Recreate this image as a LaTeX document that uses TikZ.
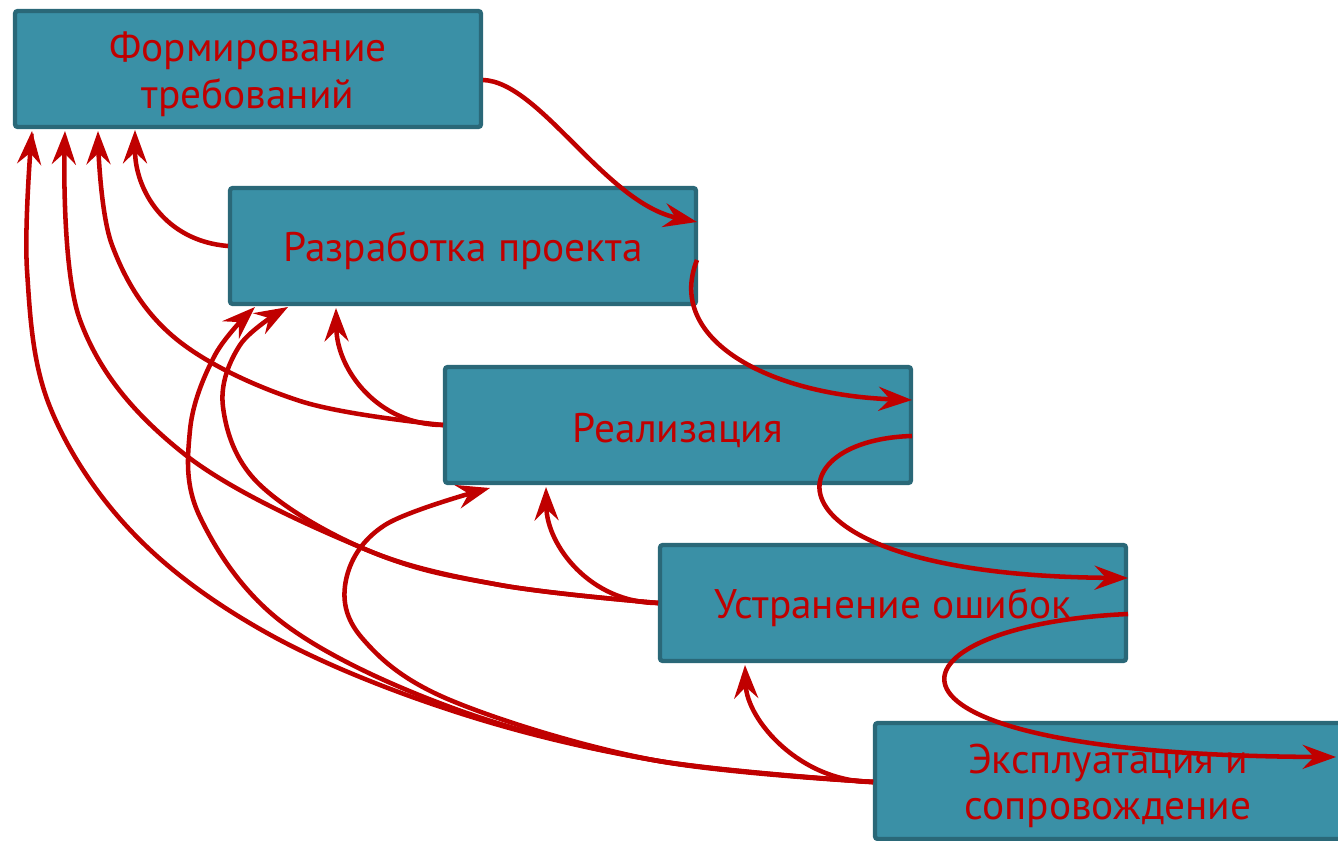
\documentclass[tikz,border=0pt]{standalone}
\usepackage{fontspec}
\setmainfont{PT Sans}
\usetikzlibrary{arrows.meta,calc}
\definecolor{boxfill}{HTML}{3A90A6}
\definecolor{boxline}{HTML}{2A6878}
\definecolor{arrowred}{HTML}{C00000}

\begin{document}
\begin{tikzpicture}[x=0.75pt,y=-0.75pt,
  stage/.style={draw=boxline, fill=boxfill, line width=3.2pt, rounded corners=2pt,
    minimum width=349.5pt, minimum height=87pt, inner sep=0pt, outer sep=0pt},
  stagetext/.style={text=arrowred, align=center, inner sep=0pt,
    font=\fontsize{31}{35}\selectfont},
  flow/.style={draw=arrowred, line width=3.4pt,
    -{Stealth[length=25pt,width=18pt,inset=8.5pt]}},
  back/.style={flow},
  curve/.style={smooth, tension=0.6},
]
\useasboundingbox (0,0) rectangle (1338,841);
\fill[white] (0,0) rectangle (1338,841);
\clip (0,0) rectangle (1338,841);

% stages of the waterfall
\node[stage] (b1) at (248,69)   {};
\node[stage] (b2) at (463,246)  {};
\node[stage] (b3) at (678,425)  {};
\node[stage] (b4) at (893,603)  {};
\node[stage] (b5) at (1108,781) {};

% stage titles, set a little below the box centres
\node[stagetext] (l1) at ($(b1)+(0,5)$) {Формирование\\требований};
\node[stagetext] (l2) at ($(b2)+(0,5)$) {Разработка проекта};
\node[stagetext] (l3) at ($(b3)+(0,5)$) {Реализация};
\node[stagetext] (l4) at ($(b4)+(0,5)$) {Устранение ошибок};
\node[stagetext] (l5) at ($(b5)+(0,5)$) {Эксплуатация и\\сопровождение};

% forward transitions
\draw[flow] ($(b1.east)+(2,11)$) .. controls (540,82) and (605,203) .. ($(b2.east)+(1,-24)$);
\draw[flow] ($(b2.east)+(1,14)$) .. controls (665,340) and (770,395) .. ($(b3.east)+(1,-25)$);
\draw[flow] ($(b3.east)+(1,11)$) .. controls (770,440) and (760,575) .. ($(b4.east)+(2,-25)$);
\draw[flow] ($(b4.east)+(2,11)$) .. controls (880,625) and (830,755) .. ($(b5.east)+(-5,-24)$);

% start points of the feedback lines
\coordinate (s2) at ($(b2.west)+(-2,0)$);
\coordinate (s3) at ($(b3.west)+(-2,0)$);
\coordinate (s4) at ($(b4.west)+(-2,0)$);
\coordinate (s5) at ($(b5.west)+(-2,1)$);

% tips of the feedback lines
\coordinate (t21) at ($(b1.south)+(-113,3)$);
\coordinate (t31) at ($(b1.south)+(-150,4)$);
\coordinate (t41) at ($(b1.south)+(-183,4)$);
\coordinate (t51) at ($(b1.south)+(-216,4)$);
\coordinate (t32) at ($(b2.south)+(-127,4)$);
\coordinate (t42) at ($(b2.south)+(-175,3)$);
\coordinate (t52) at ($(b2.south)+(-208,3)$);
\coordinate (t43) at ($(b3.south)+(-132,4)$);
\coordinate (t53) at ($(b3.south)+(-188,5)$);
\coordinate (t54) at ($(b4.south)+(-148,4)$);

% feedback to the previous stage
\draw[back] (s2) .. controls (165,241) and (135,190) .. (t21);
\draw[back] (s3) .. controls (378,425) and (337,370) .. (t32);
\draw[back] (s4) .. controls (590,603) and (547,545) .. (t43);
\draw[back] (s5) .. controls (800,782) and (747,720) .. (t54);

% feedback to earlier stages
\draw[back] plot[curve] coordinates {(s3) (300,401) (175,338) (112,245) (t31)};
\draw[back] plot[curve] coordinates {(s4) (500,585) (367,550) (183,453) (80,320) (t41)};
\draw[back] plot[curve] coordinates {(s4) (500,585) (367,550) (258,483) (223,407) (240,345) (t42)};
\draw[back] plot[curve] coordinates {(s5) (653,760) (450,710) (267,633) (133,533) (50,407) (27,270) (t51)};
\draw[back] plot[curve] coordinates {(s5) (653,760) (450,707) (283,623) (200,517) (190,430) (215,355) (t52)};
\draw[back] plot[curve] coordinates {(s5) (653,760) (450,700) (362,638) (346,580) (385,525) (t53)};
\end{tikzpicture}
\end{document}
